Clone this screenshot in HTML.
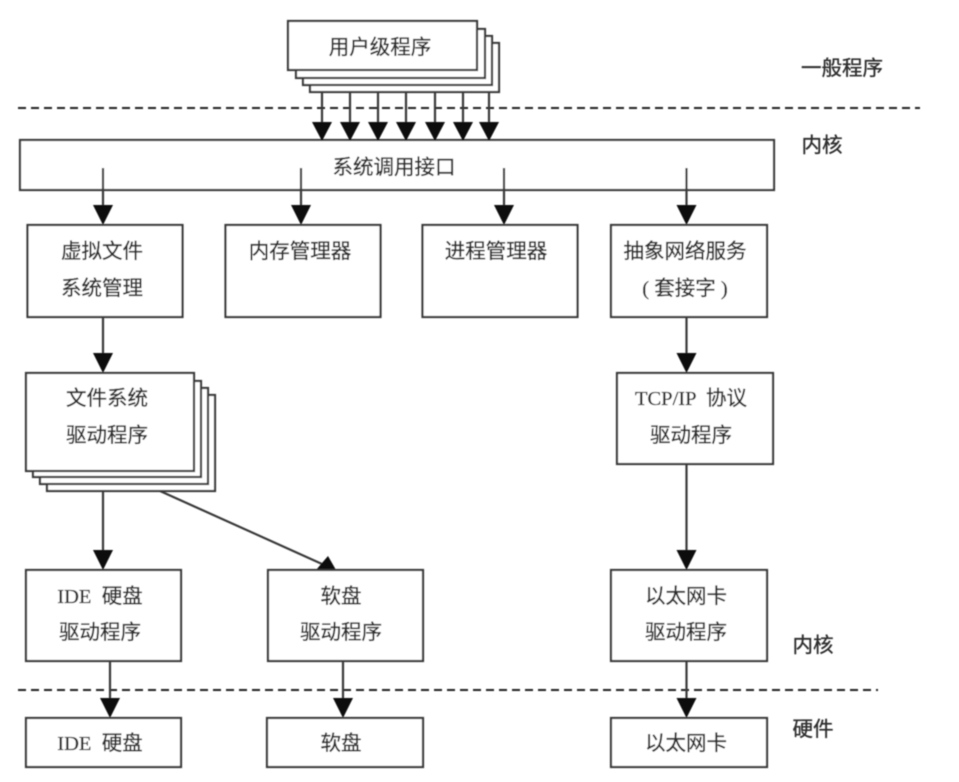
<!DOCTYPE html>
<html><head><meta charset="utf-8">
<style>
html,body{margin:0;padding:0;background:#fff;width:959px;height:782px;overflow:hidden}
svg{display:block}
text{font-family:"Liberation Serif","WenQuanYi Zen Hei","Noto Sans CJK SC",sans-serif;font-size:20.5px;fill:#2e2e2e;stroke:#2e2e2e;stroke-width:.35px;text-anchor:middle}
.b{fill:#fff;stroke:#3a3a3a;stroke-width:2.2}
.l{stroke:#3a3a3a;stroke-width:2.2;fill:none}
.d{stroke:#222;stroke-width:2;stroke-dasharray:8 5;fill:none}
.h{fill:#0a0a0a;stroke:none}
.w{font-size:22px}
</style></head><body>
<svg width="959" height="782" viewBox="0 0 959 782" xmlns="http://www.w3.org/2000/svg">
<defs><filter id="s" x="-2%" y="-2%" width="104%" height="104%"><feGaussianBlur stdDeviation="0.55"/></filter></defs>
<rect width="959" height="782" fill="#fff"/>
<g filter="url(#s)">
<!-- dashed -->
<path class="d" d="M18 108H920"/>
<path class="d" d="M18 690H878"/>
<!-- user stack -->
<rect class="b" x="310" y="43" width="189" height="49"/>
<rect class="b" x="303" y="36" width="189" height="49"/>
<rect class="b" x="296" y="29" width="189" height="49"/>
<rect class="b" x="288" y="21" width="189" height="49"/>
<!-- top arrows -->
<path class="l" d="M322 92V124M350 92V124M378 92V124M406 92V124M435 92V124M463 92V124M489 92V124"/>
<!-- system box -->
<rect class="b" x="20" y="140" width="754" height="50"/>
<path class="h" d="M312 122h20l-10 19zM340 122h20l-10 19zM368 122h20l-10 19zM396 122h20l-10 19zM425 122h20l-10 19zM453 122h20l-10 19zM479 122h20l-10 19z"/>
<!-- second row -->
<path class="l" d="M103 168V208M301 168V208M504 168V208M686.500 168V208"/>
<path class="h" d="M93 205h20l-10 20zM291 205h20l-10 20zM494 205h20l-10 20zM676.500 205h20l-10 20z"/>
<rect class="b" x="27.500" y="225" width="155" height="92"/>
<rect class="b" x="225.500" y="225" width="155" height="92"/>
<rect class="b" x="422.500" y="225" width="155" height="92"/>
<rect class="b" x="611" y="225" width="156" height="92"/>
<!-- mid arrows -->
<path class="l" d="M103 317V358M686.500 317V358M686.500 464V552M103 491V552M160 491L322 564"/>
<path class="h" d="M93 353h20l-10 20zM676.500 353h20l-10 20z"/>
<path class="h" d="M93 550h20l-10 20zM676.500 550h20l-10 20z"/>
<path class="h" d="M316 570L328 556L336 570z"/>
<!-- fs stack -->
<rect class="b" x="47" y="395" width="168" height="96"/>
<rect class="b" x="40" y="388" width="168" height="96"/>
<rect class="b" x="33" y="381" width="168" height="96"/>
<rect class="b" x="26" y="373" width="168" height="98"/>
<rect class="b" x="617" y="373" width="156" height="91"/>
<!-- drivers -->
<rect class="b" x="26" y="570" width="155" height="91"/>
<rect class="b" x="268" y="570" width="155" height="91"/>
<rect class="b" x="611" y="570" width="156" height="91"/>
<path class="l" d="M110 661V702M343 661V702M686.500 661V702"/>
<path class="h" d="M100 698h20l-10 20zM333 698h20l-10 20zM676.500 698h20l-10 20z"/>
<rect class="b" x="26" y="718" width="155" height="49"/>
<rect class="b" x="267" y="718" width="156" height="49"/>
<rect class="b" x="611" y="718" width="156" height="49"/>
<!-- text -->
<text x="380" y="54">用户级程序</text>
<text x="394" y="174">系统调用接口</text>
<text x="842" y="75">一般程序</text>
<text x="822" y="152">内核</text>
<text x="102" y="258">虚拟文件</text>
<text x="102" y="295">系统管理</text>
<text x="300" y="258">内存管理器</text>
<text x="496" y="258">进程管理器</text>
<text x="685" y="258">抽象网络服务</text>
<text x="685" y="295" xml:space="preserve">( 套接字 )</text>
<text x="107" y="405">文件系统</text>
<text x="107" y="442">驱动程序</text>
<text x="691" y="405" xml:space="preserve">TCP/IP  协议</text>
<text x="691" y="442">驱动程序</text>
<text x="100" y="603" xml:space="preserve">IDE  硬盘</text>
<text x="100" y="639">驱动程序</text>
<text x="341" y="603">软盘</text>
<text x="341" y="639">驱动程序</text>
<text x="686" y="603">以太网卡</text>
<text x="686" y="639">驱动程序</text>
<text x="813" y="652">内核</text>
<text x="100" y="750" xml:space="preserve">IDE  硬盘</text>
<text x="341" y="750">软盘</text>
<text x="686" y="750">以太网卡</text>
<text x="813" y="736">硬件</text>
</g>
</svg>
</body></html>
